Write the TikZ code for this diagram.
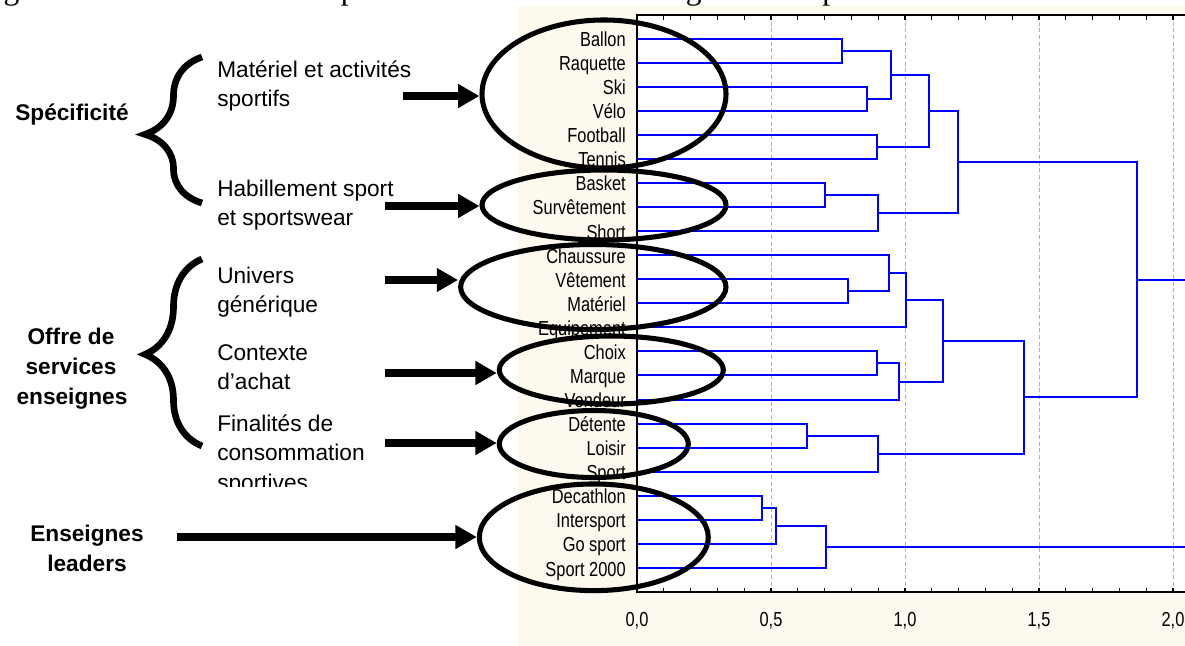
\documentclass[tikz,border=0pt]{standalone}
\usepackage{fontspec}
\setmainfont{Liberation Sans}
\newfontfamily\capfont{Liberation Serif}
\newfontfamily\narrowfont[FakeStretch=0.81]{Liberation Sans}
\usetikzlibrary{shapes.geometric,arrows.meta,decorations.pathreplacing}
\definecolor{cream}{RGB}{253,249,238}
\definecolor{dblue}{RGB}{0,0,255}
\definecolor{gridgray}{RGB}{175,175,175}
\tikzset{
  dend/.style={draw=dblue, line width=1.5pt},
  leaf/.style={anchor=base east, inner sep=0pt, font=\narrowfont\fontsize{15.2}{18}\selectfont},
  axlab/.style={anchor=base, inner sep=0pt, font=\narrowfont\fontsize{15.2}{18}\selectfont},
  frameline/.style={draw=black, line width=1.2pt},
  tickline/.style={draw=black, line width=0.8pt},
  gridline/.style={draw=gridgray, line width=0.5pt, dash pattern=on 3pt off 2pt},
  ell/.style={ellipse, draw=black, line width=3.8pt, inner sep=0pt},
  bigarrow/.style={draw=black, line width=5.8pt, -{Triangle[length=16pt,width=17pt]}},
  ltext/.style={anchor=base west, inner sep=0pt, font=\fontsize{17}{20}\selectfont},
  btext/.style={anchor=base, inner sep=0pt, font=\bfseries\fontsize{17}{20}\selectfont},
  bracestyle/.style={draw=black, line width=5pt, decorate},
}
\begin{document}
\begin{tikzpicture}[x=0.75pt,y=-0.75pt]
\useasboundingbox (0,0) rectangle (1185,646);
\clip (0,0) rectangle (1185,646);
% backgrounds
\fill[cream] (517,6) rectangle (1190,650);
\fill[white] (637,15) rectangle (1190,592);
% grid lines
\foreach \gx in {771,905,1039,1173} \draw[gridline] (\gx,15) -- (\gx,592);
% dendrogram
\begin{scope}[shift={(637,38.5)}, x=201pt, y=-18.0525pt]
  \foreach \n [count=\i from 0] in {Ballon,Raquette,Ski,Vélo,Football,Tennis,Basket,Survêtement,Short,Chaussure,Vêtement,Matériel,Equipement,Choix,Marque,Vendeur,Détente,Loisir,Sport,Decathlon,Intersport,Go sport,Sport 2000}
  {
    \coordinate (p\i) at (0,\i);
    \node[leaf] (l\i) at (-0.041,\i) [yshift=-6pt] {\n};
  }
  \coordinate (ma) at (0.766,0.5);
  \coordinate (mb) at (0.859,2.5);
  \coordinate (mc) at (0.948,1.5);
  \coordinate (md) at (0.894,4.5);
  \coordinate (me) at (1.090,3.0);
  \coordinate (mf) at (0.700,6.5);
  \coordinate (mg) at (0.901,7.25);
  \coordinate (mh) at (1.196,5.125);
  \coordinate (mi) at (0.788,10.5);
  \coordinate (mj) at (0.941,9.75);
  \coordinate (mk) at (1.003,10.875);
  \coordinate (ml) at (0.896,13.5);
  \coordinate (mm) at (0.978,14.25);
  \coordinate (mn) at (1.142,12.5625);
  \coordinate (mo) at (0.636,16.5);
  \coordinate (mp) at (0.901,17.25);
  \coordinate (mq) at (1.443,14.906);
  \coordinate (mr) at (1.866,10.016);
  \coordinate (ms) at (0.465,19.5);
  \coordinate (mt) at (0.518,20.25);
  \coordinate (mu) at (0.706,21.125);
  \coordinate (rx) at (2.2,0);
  \draw[dend] (p0) -| (ma) |- (p1);
  \draw[dend] (p2) -| (mb) |- (p3);
  \draw[dend] (ma) -| (mc) |- (mb);
  \draw[dend] (p4) -| (md) |- (p5);
  \draw[dend] (mc) -| (me) |- (md);
  \draw[dend] (p6) -| (mf) |- (p7);
  \draw[dend] (mf) -| (mg) |- (p8);
  \draw[dend] (me) -| (mh) |- (mg);
  \draw[dend] (p10) -| (mi) |- (p11);
  \draw[dend] (p9) -| (mj) |- (mi);
  \draw[dend] (mj) -| (mk) |- (p12);
  \draw[dend] (p13) -| (ml) |- (p14);
  \draw[dend] (ml) -| (mm) |- (p15);
  \draw[dend] (mk) -| (mn) |- (mm);
  \draw[dend] (p16) -| (mo) |- (p17);
  \draw[dend] (mo) -| (mp) |- (p18);
  \draw[dend] (mn) -| (mq) |- (mp);
  \draw[dend] (mh) -| (mr) |- (mq);
  \draw[dend] (mr) -- (mr -| rx);
  \draw[dend] (p19) -| (ms) |- (p20);
  \draw[dend] (ms) -| (mt) |- (p21);
  \draw[dend] (mt) -| (mu) |- (p22);
  \draw[dend] (mu) -- (mu -| rx);
\end{scope}
% frame and ticks
\draw[frameline] (1190,15) -- (637,15) -- (637,592) -- (1190,592);
\foreach \k in {0,...,20} {
  \draw[tickline] (637+26.8*\k,592) -- ++(0,-4.5);
  \draw[tickline] (637+26.8*\k,15) -- ++(0,4.5);
}
\node[axlab] (ax0) at (637,626.7) {0,0};
\node[axlab] (ax1) at (771,626.7) {0,5};
\node[axlab] (ax2) at (905,626.7) {1,0};
\node[axlab] (ax3) at (1039,626.7) {1,5};
\node[axlab] (ax4) at (1173,626.7) {2,0};
% ellipses
\node[ell, minimum width=183pt, minimum height=111pt] (e1) at (604,94) {};
\node[ell, minimum width=183pt, minimum height=52.5pt] (e2) at (604,205) {};
\node[ell, minimum width=199pt, minimum height=63.75pt] (e3) at (593.3,287) {};
\node[ell, minimum width=168pt, minimum height=51pt] (e4) at (611.3,370) {};
\node[ell, minimum width=141.75pt, minimum height=50.25pt] (e5) at (593.8,444) {};
\node[ell, minimum width=171.75pt, minimum height=80pt] (e6) at (593.8,537.3) {};
% arrows
\coordinate (s1) at (403,96);
\coordinate (s2) at (385,206);
\coordinate (s3) at (385,280);
\coordinate (s4) at (385,373);
\coordinate (s5) at (385,443);
\coordinate (s6) at (177,537);
\draw[bigarrow] (s1) -- (s1 -| e1.west);
\draw[bigarrow] (s2) -- (s2 -| e2.west);
\draw[bigarrow] (s3) -- (s3 -| e3.west);
\draw[bigarrow] (s4) -- (s4 -| e4.west);
\draw[bigarrow] (s5) -- (s5 -| e5.west);
\draw[bigarrow] (s6) -- (s6 -| e6.west);
% left texts
\node[ltext] (t1a) at (217,77) {Matériel et activités};
\node[ltext] (t1b) at (217,106.7) {sportifs};
\node[ltext] (t2a) at (217,196) {Habillement sport};
\node[ltext] (t2b) at (217,225.7) {et sportswear};
\node[ltext] (t3a) at (217,283) {Univers};
\node[ltext] (t3b) at (217,312.7) {générique};
\node[ltext] (t4a) at (217,360) {Contexte};
\node[ltext] (t4b) at (217,389.7) {d’achat};
\node[ltext] (t5a) at (217,431) {Finalités de};
\node[ltext] (t5b) at (217,460.7) {consommation};
\begin{scope}
  \clip (200,440) rectangle (420,486);
  \node[ltext] (t5c) at (217,490.4) {sportives};
\end{scope}
\node[btext] (g1) at (72,120) {Spécificité};
\node[btext] (g2a) at (71,344) {Offre de};
\node[btext] (g2b) at (71,374) {services};
\node[btext] (g2c) at (72,404) {enseignes};
\node[btext] (g3a) at (87,541.7) {Enseignes};
\node[btext] (g3b) at (87,571.7) {leaders};
% braces
\coordinate (b1s) at (202,203);
\coordinate (b1e) at (202,57);
\coordinate (b2s) at (202,446);
\coordinate (b2e) at (202,259);
\draw[bracestyle, decoration={brace, amplitude=42.75pt, aspect=0.47}] (b1s) -- (b1e);
\draw[bracestyle, decoration={brace, amplitude=42.75pt, aspect=0.49}] (b2s) -- (b2e);
% caption (cut at top, as in the reference)
\node[anchor=base west, inner sep=0pt, font=\capfont\fontsize{23.6}{28}\selectfont] (cap) at (-23,0) {Figure 4 : le contenu de la représentation sociale des magasins de sport};
\end{tikzpicture}
\end{document}
